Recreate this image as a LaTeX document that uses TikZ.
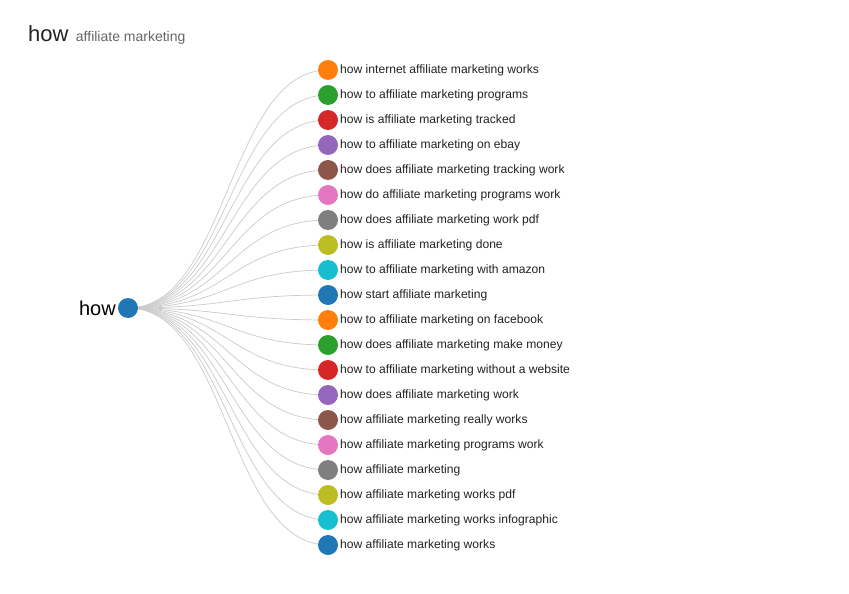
\documentclass[tikz,border=0pt]{standalone}
\usepackage{fontspec}
\setmainfont{Liberation Sans}
\usetikzlibrary{positioning,calc,backgrounds}
\definecolor{c0}{HTML}{1F77B4}
\definecolor{c1}{HTML}{FF7F0E}
\definecolor{c2}{HTML}{2CA02C}
\definecolor{c3}{HTML}{D62728}
\definecolor{c4}{HTML}{9467BD}
\definecolor{c5}{HTML}{8C564B}
\definecolor{c6}{HTML}{E377C2}
\definecolor{c7}{HTML}{7F7F7F}
\definecolor{c8}{HTML}{BCBD22}
\definecolor{c9}{HTML}{17BECF}
\definecolor{linkgray}{HTML}{CCCCCC}
\definecolor{txtgray}{HTML}{666666}
\definecolor{txtdark}{HTML}{222222}

\begin{document}
\begin{tikzpicture}[x=1pt, y=-1pt, line cap=round, line join=round]
\tikzset{dot/.style={circle, inner sep=0pt, minimum size=20pt},
  link/.style={draw=linkgray, line width=0.75pt},
  leaflbl/.style={anchor=base west, inner sep=0pt, text=txtdark, font=\fontsize{12.1}{14}\selectfont}}
\useasboundingbox (0,0) rectangle (849,594);

% title
\node[anchor=base west, inner sep=0pt, text=txtdark, font=\fontsize{22}{26}\selectfont] (title) at (28,42) {how};
\node[anchor=base west, inner sep=0pt, text=txtgray, font=\fontsize{14}{16}\selectfont] (subtitle) at ($(title.base east)+(7,0)$) {affiliate marketing};

% root
\node[dot, fill=c0] (root) at (128,308) {};
\node[anchor=base east, inner sep=0pt, text=black, font=\fontsize{20}{24}\selectfont] (rootlbl) at ($(root.center)+(-12,7)$) {how};

% leaves (0..19)
\foreach \txt [count=\i from 0] in {how internet affiliate marketing works,
  how to affiliate marketing programs,
  how is affiliate marketing tracked,
  how to affiliate marketing on ebay,
  how does affiliate marketing tracking work,
  how do affiliate marketing programs work,
  how does affiliate marketing work pdf,
  how is affiliate marketing done,
  how to affiliate marketing with amazon,
  how start affiliate marketing,
  how to affiliate marketing on facebook,
  how does affiliate marketing make money,
  how to affiliate marketing without a website,
  how does affiliate marketing work,
  how affiliate marketing really works,
  how affiliate marketing programs work,
  how affiliate marketing,
  how affiliate marketing works pdf,
  how affiliate marketing works infographic,
  how affiliate marketing works}{
  \pgfmathtruncatemacro{\c}{mod(\i+1,10)}
  \node[dot, fill=c\c] (L\i) at (328,{70+25*\i}) {};
  \node[leaflbl] (T\i) at ($(L\i.center)+(12,3.5)$) {\txt};
  \begin{scope}[on background layer]
    \draw[link] (root.center) .. controls ([xshift=100pt]root.center) and ([xshift=-100pt]L\i.center) .. (L\i.center);
  \end{scope}
}
\end{tikzpicture}
\end{document}
